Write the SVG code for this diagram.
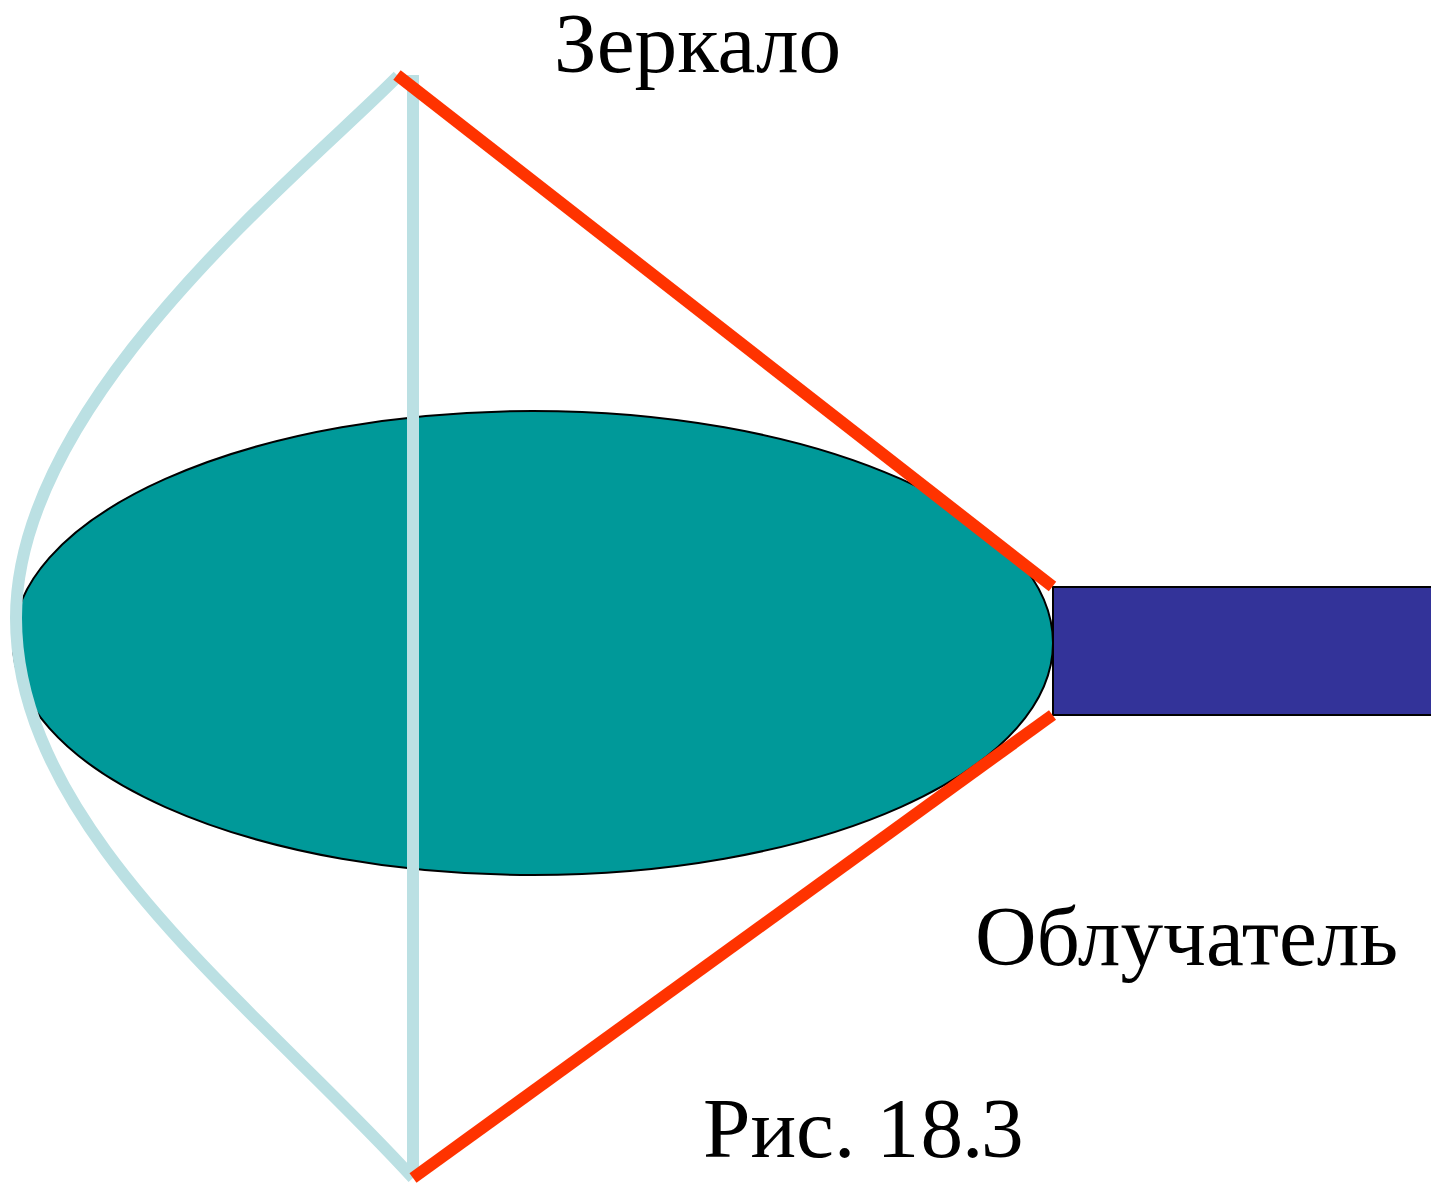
<svg xmlns="http://www.w3.org/2000/svg" width="1431" height="1183" viewBox="0 0 1431 1183">
<style>
.t{font-family:"Liberation Serif","Times New Roman",serif;font-size:85.3px;fill:#000}
.b{fill:none;stroke:#BBE0E3;stroke-width:12}
.r{fill:none;stroke:#FF3300;stroke-width:12}
</style>
<rect width="1431" height="1183" fill="#fff"/>
<g id="lobe"><ellipse cx="533" cy="643" rx="520" ry="232" fill="#009999" stroke="#000" stroke-width="2"/></g>
<g id="feed"><rect x="1053" y="587" width="379" height="128" fill="#333399" stroke="#000" stroke-width="2"/></g>
<g id="connectors">
<path class="b" d="M413 75V1178"/>
<path class="b" d="M398 76C300 175 16 400 16 618C16 830 256 1006 413 1178"/>
<path class="r" d="M397 75L1052.500 586.500"/>
<path class="r" d="M413 1178L1052.500 715"/>
</g>
<g id="labels">
<text class="t" x="554" y="72">Зеркало</text>
<text class="t" x="975" y="965">Облучатель</text>
<text class="t" x="703" y="1157">Рис. <tspan x="876.500 920.500 962 981">18.3</tspan></text>
</g>
</svg>
